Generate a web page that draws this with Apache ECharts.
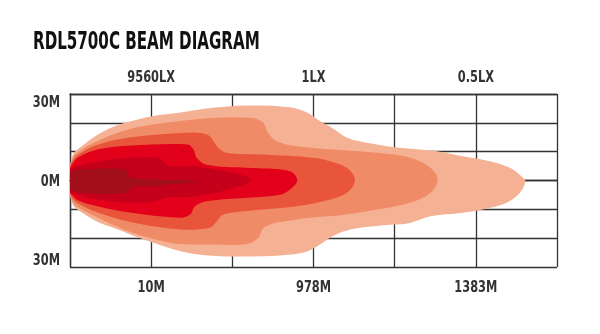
<!DOCTYPE html>
<html>
<head>
<meta charset="utf-8">
<script src="https://cdn.jsdelivr.net/npm/echarts@6/dist/echarts.min.js"></script>
<style>html,body{margin:0;padding:0;background:#fff;}#c{width:600px;height:334px;}</style>
</head>
<body>
<div id="c"></div>
<script>
// Axis ticks / labels
const xBottomTicks = [100, 300, 500];
const xBottomLabels = ['10M', '978M', '1383M'];
const xTopTicks = [100, 300, 500];
const xTopLabels = ['9560LX', '1LX', '0.5LX'];
const yTicks = [30, 0, -30];
const yLabels = ['30M', '0M', '30M'];
const titleText = 'RDL5700C BEAM DIAGRAM';

// Beam contours (x: grid units 0-600, y: metres), outer to inner
const beam05lx = [[0,5.0],[1.5,7.0],[5,9.6],[14,11.8],[35,16.0],[55,18.8],[76,20.6],[101,22.3],[136,23.6],[176,25.2],[218,26.0],[271,25.4],[292,23.6],[308,20.6],[324,18.0],[340,15.0],[357,13.6],[378,12.5],[398,11.6],[427,10.8],[456,10.0],[484,8.4],[517,6.7],[542,4.4],[556,1.5],[561,-0.3],[554,-4.3],[538,-7.7],[517,-9.5],[484,-11.2],[444,-12.4],[419,-14.7],[398,-15.3],[357,-16.4],[336,-17.8],[320,-19.9],[308,-22.2],[292,-24.6],[271,-25.7],[238,-26.3],[176,-26.1],[136,-24.5],[101,-21.4],[76,-18.9],[55,-16.6],[35,-14.5],[14,-11.0],[5,-9.0],[1.5,-6.8],[0,-5.2]];
const beam1lx = [[0,4.6],[2,6.8],[7,9.3],[35,13.8],[76,18.0],[136,20.6],[176,21.7],[225,21.7],[238,20.0],[244,16.5],[255,13.6],[279,11.9],[333,10.6],[378,9.6],[419,7.9],[444,4.4],[453,0.3],[444,-4.3],[419,-7.7],[378,-10.1],[336,-12.0],[299,-12.8],[263,-14.2],[250,-14.9],[238,-16.6],[232,-19.9],[218,-22.0],[168,-22.2],[136,-22.0],[117,-21.2],[76,-18.0],[35,-13.0],[7,-8.8],[2,-6.5],[0,-4.8]];
const beam3lx = [[0,4.2],[2,6.2],[9,8.8],[35,12.5],[76,15.0],[136,16.5],[160,16.5],[172,15.4],[181,11.9],[193,9.6],[238,9.0],[299,7.9],[320,6.7],[341,4.4],[351,0.3],[341,-4.3],[312,-7.2],[279,-8.9],[218,-10.6],[189,-11.8],[181,-14.1],[172,-16.4],[136,-17.0],[76,-14.5],[35,-11.2],[9,-7.8],[2,-5.8],[0,-4.4]];
const beam10lx = [[0,3.8],[3,5.8],[10,8.0],[35,10.8],[76,12.1],[145,12.5],[152,10.8],[156,7.9],[168,5.5],[218,4.4],[271,3.2],[280,0],[271,-3.1],[259,-4.9],[218,-6.0],[168,-7.2],[154,-8.9],[148,-11.8],[136,-12.9],[76,-11.2],[35,-9.0],[10,-6.9],[3,-5.3],[0,-4.0]];
const beam40lx = [[0,3.4],[4,4.6],[35,6.7],[76,7.9],[108,7.9],[117,6.1],[121,5.0],[158,4.8],[218,1.5],[222,0],[209,-2.0],[158,-5.4],[117,-6.0],[105,-7.2],[76,-7.7],[35,-6.6],[4,-4.6],[0,-3.6]];
const beam200lx = [[0,3.0],[6,3.6],[18,3.9],[68,3.8],[74,1.0],[158,-0.2],[96,-2.0],[76,-2.1],[72,-4.2],[18,-4.3],[6,-3.8],[0,-3.2]];

const layers = [beam05lx, beam1lx, beam3lx, beam10lx, beam40lx, beam200lx];
const layerColors = ['#F5B194', '#F08B67', '#E8553A', '#E2001A', '#C5001A', '#A20F1A'];

const FONT = '"Liberation Sans Narrow", "DejaVu Sans Condensed", sans-serif';
const LABEL_SCALE = 0.79;

const chart = echarts.init(document.getElementById('c'), null, { renderer: 'canvas' });
const gridLine = { color: '#333', width: 1.3 };
chart.setOption({
  animation: false,
  backgroundColor: '#fff',
  grid: { left: 70, top: 94, width: 487, height: 173, containLabel: false },
  xAxis: [{
    type: 'value', position: 'bottom', min: 0, max: 600, interval: 100,
    axisLine: { show: true, lineStyle: gridLine }, axisTick: { show: false },
    splitLine: { show: true, lineStyle: gridLine }, axisLabel: { show: false }
  }, {
    type: 'value', position: 'top', min: 0, max: 600, interval: 100,
    axisLine: { show: true, lineStyle: gridLine }, axisTick: { show: false },
    splitLine: { show: false }, axisLabel: { show: false }
  }],
  yAxis: [{
    type: 'value', min: -30, max: 30, interval: 10,
    axisLine: { show: true, lineStyle: gridLine }, axisTick: { show: false },
    splitLine: { show: true, lineStyle: gridLine }, axisLabel: { show: false }
  }],
  series: layers.map(function (pts, idx) {
    return {
      type: 'custom', coordinateSystem: 'cartesian2d', xAxisIndex: 0, yAxisIndex: 0,
      silent: true, clip: true, z: 2 + idx, data: [[0, 0]],
      renderItem: function (params, api) {
        return {
          type: 'polygon',
          shape: { points: pts.map(function (p) { return api.coord(p); }), smooth: 0.35 },
          style: { fill: layerColors[idx] }
        };
      }
    };
  })
});

// Axis labels placed through the chart's own scales (condensed via scaleX)
function lbl(x, y, text, align, vAlign) {
  return {
    type: 'text', x: x, y: y, scaleX: LABEL_SCALE, silent: true,
    style: { text: text, fontFamily: FONT, fontWeight: 'bold', fontSize: 16, fill: '#333', align: align, verticalAlign: vAlign }
  };
}
const graphics = [{
  type: 'text', x: 33, y: 43, scaleX: 0.70, silent: true,
  style: { text: titleText, fontFamily: FONT, fontWeight: 'bold', fontSize: 24, fill: '#111', align: 'left', verticalAlign: 'middle' }
}];
xBottomTicks.forEach(function (v, i) {
  const p = chart.convertToPixel({ xAxisIndex: 0, yAxisIndex: 0 }, [v, -30]);
  graphics.push(lbl(p[0], p[1] + 21, xBottomLabels[i], 'center', 'middle'));
});
xTopTicks.forEach(function (v, i) {
  const p = chart.convertToPixel({ xAxisIndex: 1, yAxisIndex: 0 }, [v, 30]);
  graphics.push(lbl(p[0], p[1] - 16, xTopLabels[i], 'center', 'middle'));
});
yTicks.forEach(function (v, i) {
  const p = chart.convertToPixel({ xAxisIndex: 0, yAxisIndex: 0 }, [0, v]);
  let va = 'middle', dy = 1.5;
  if (v === 30) { va = 'top'; dy = 1; }
  if (v === -30) { va = 'bottom'; dy = 2; }
  graphics.push(lbl(p[0] - 10, p[1] + dy, yLabels[i], 'right', va));
});
chart.setOption({ graphic: graphics });
</script>
</body>
</html>
